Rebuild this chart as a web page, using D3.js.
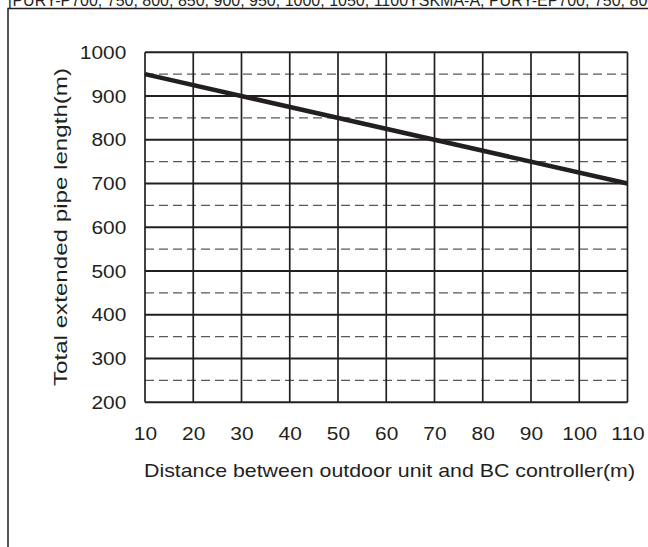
<!DOCTYPE html>
<html><head><meta charset="utf-8">
<script src="https://cdn.jsdelivr.net/npm/d3@7"></script>
<style>body{margin:0;background:#fff;}svg{display:block;font-family:"Liberation Sans",Arial,sans-serif;}</style>
</head><body>
<svg id="c" width="648" height="547"></svg>
<script>
const headerText = "[PURY-P700, 750, 800, 850, 900, 950, 1000, 1050, 1100YSKMA-A, PURY-EP700, 750, 800YSKMA-A]";
const xTicks = [10,20,30,40,50,60,70,80,90,100,110];
const yTicks = [200,300,400,500,600,700,800,900,1000];
const yDashed = [250,350,450,550,650,750,850,950];
const lineX = [10,110];
const lineY = [950,700];
const xTitle = "Distance between outdoor unit and BC controller(m)";
const yTitle = "Total extended pipe length(m)";

const svg = d3.select("#c");
const ink = "#231f20";
const L=145, R=627.5, T=52.3, B=402.3;
const x = d3.scaleLinear().domain([10,110]).range([L,R]);
const y = d3.scaleLinear().domain([200,1000]).range([B,T]);

svg.append("text").attr("x",8).attr("y",6).attr("font-size",16).attr("fill",ink).text(headerText);
// frame
svg.append("path").attr("d",`M8,547 V8.5 H648`).attr("fill","none").attr("stroke",ink).attr("stroke-width",1.5);

// dashed lines
svg.append("g").selectAll("line").data(yDashed).join("line")
 .attr("x1",L).attr("x2",R).attr("y1",d=>y(d)).attr("y2",d=>y(d))
 .attr("stroke","#58585a").attr("stroke-width",1.3).attr("stroke-dasharray","9,5");
// vertical grid
svg.append("g").selectAll("line").data(xTicks).join("line")
 .attr("x1",d=>x(d)).attr("x2",d=>x(d)).attr("y1",T).attr("y2",B)
 .attr("stroke",ink).attr("stroke-width",1.7);
// horizontal grid
svg.append("g").selectAll("line").data(yTicks).join("line")
 .attr("x1",L).attr("x2",R).attr("y1",d=>y(d)).attr("y2",d=>y(d))
 .attr("stroke",ink).attr("stroke-width",1.9);

// data line
svg.append("path").datum(lineX.map((d,i)=>[d,lineY[i]]))
 .attr("d",d3.line().x(d=>x(d[0])).y(d=>y(d[1])))
 .attr("stroke",ink).attr("stroke-width",4.5).attr("fill","none");

// tick labels via axes (no lines)
const fmt = d3.format("d");
const xa = svg.append("g").attr("transform",`translate(0,${B})`)
 .call(d3.axisBottom(x).tickValues(xTicks).tickFormat(fmt).tickSize(0).tickPadding(24.5));
const ya = svg.append("g").attr("transform",`translate(${L},0)`)
 .call(d3.axisLeft(y).tickValues(yTicks).tickFormat(fmt).tickSize(0).tickPadding(0));
[xa,ya].forEach(g=>{g.select(".domain").remove();g.selectAll("text").attr("font-size",19).attr("fill",ink).attr("font-family","Liberation Sans, Arial, sans-serif");});
xa.selectAll("text").attr("transform","scale(1.1,1)");
ya.selectAll("text").attr("x",-17).attr("transform","scale(1.1,1)");

svg.append("text").attr("x",389.5).attr("y",476.5).attr("text-anchor","middle").attr("font-size",19).attr("fill",ink)
 .attr("textLength",491).attr("lengthAdjust","spacingAndGlyphs").text(xTitle);
svg.append("text").attr("transform",`translate(67,227) rotate(-90)`).attr("text-anchor","middle").attr("font-size",19).attr("fill",ink)
 .attr("textLength",318).attr("lengthAdjust","spacingAndGlyphs").text(yTitle);
</script>
</body></html>
